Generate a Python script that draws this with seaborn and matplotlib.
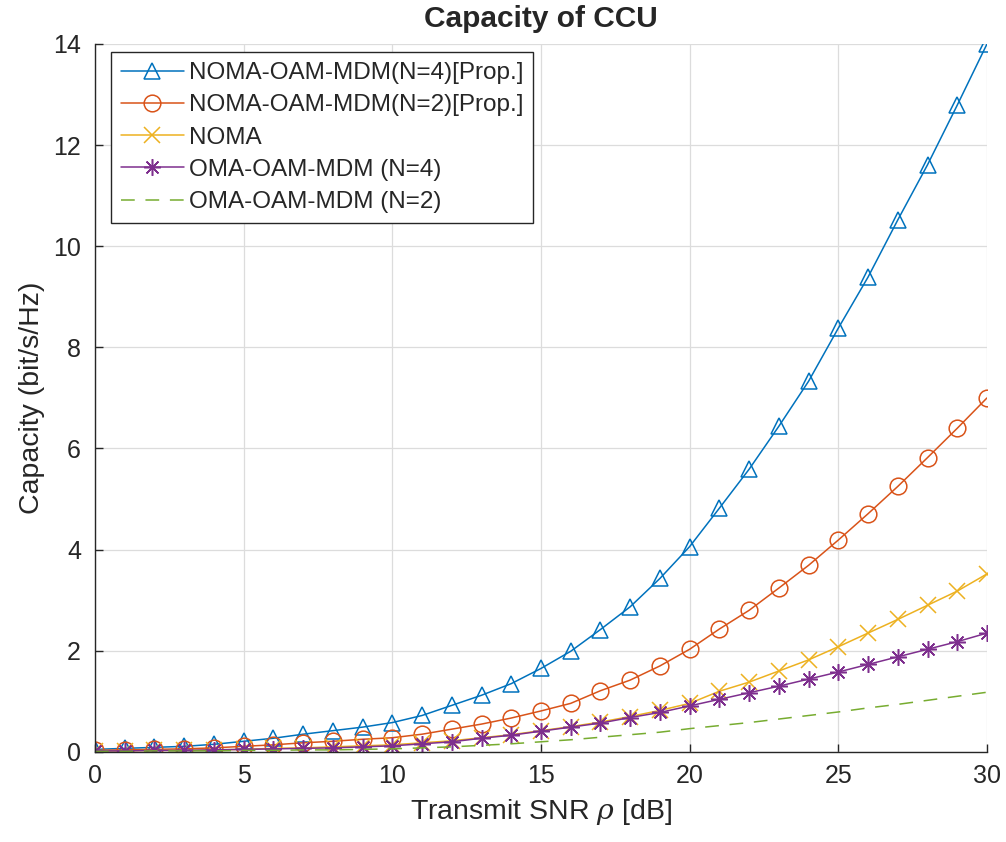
import numpy as np
import pandas as pd
import matplotlib
matplotlib.use("Agg")
import matplotlib.pyplot as plt
import seaborn as sns

snr_db = list(range(0, 31))

cap_noma_oam_n4 = [0.05, 0.07, 0.09, 0.11, 0.15, 0.21, 0.27, 0.35, 0.42, 0.49,
                   0.58, 0.72, 0.92, 1.12, 1.35, 1.65, 1.99, 2.42, 2.87, 3.43,
                   4.06, 4.82, 5.59, 6.44, 7.33, 8.38, 9.39, 10.52, 11.61, 12.79, 14.0]
cap_noma_oam_n2 = [0.03, 0.04, 0.05, 0.06, 0.08, 0.11, 0.14, 0.18, 0.21, 0.25,
                   0.28, 0.35, 0.45, 0.55, 0.67, 0.81, 0.96, 1.21, 1.42, 1.70,
                   2.03, 2.43, 2.80, 3.24, 3.69, 4.19, 4.71, 5.25, 5.82, 6.40, 7.00]
cap_noma = [0.02, 0.02, 0.03, 0.03, 0.04, 0.05, 0.07, 0.08, 0.10, 0.12,
            0.14, 0.18, 0.22, 0.28, 0.34, 0.42, 0.50, 0.59, 0.70, 0.82,
            0.96, 1.20, 1.38, 1.60, 1.82, 2.08, 2.35, 2.62, 2.90, 3.18, 3.52]
cap_oma_n4 = [0.02, 0.02, 0.03, 0.03, 0.04, 0.05, 0.06, 0.07, 0.08, 0.10,
              0.12, 0.16, 0.20, 0.27, 0.33, 0.41, 0.49, 0.57, 0.68, 0.78,
              0.91, 1.04, 1.17, 1.30, 1.44, 1.58, 1.73, 1.88, 2.03, 2.18, 2.35]
cap_oma_n2 = [0.01, 0.01, 0.02, 0.02, 0.02, 0.03, 0.03, 0.04, 0.04, 0.05,
              0.06, 0.08, 0.10, 0.13, 0.16, 0.20, 0.24, 0.29, 0.34, 0.39,
              0.46, 0.52, 0.58, 0.65, 0.72, 0.79, 0.87, 0.94, 1.02, 1.10, 1.18]

labels = ["NOMA-OAM-MDM(N=4)[Prop.]", "NOMA-OAM-MDM(N=2)[Prop.]", "NOMA",
          "OMA-OAM-MDM (N=4)", "OMA-OAM-MDM (N=2)"]
series = [cap_noma_oam_n4, cap_noma_oam_n2, cap_noma, cap_oma_n4, cap_oma_n2]
colors = ["#0072BD", "#D95319", "#EDB120", "#7E2F8E", "#77AC30"]
markers = ["^", "o", "x", (8, 2, 0), None]
linestyles = ["-", "-", "-", "-", (0, (9, 7))]
msizes = [12, 12, 11, 12, 0]

sns.set_style("white")
plt.rcParams['font.family'] = ['Liberation Sans', 'DejaVu Sans']
plt.rcParams['mathtext.fontset'] = 'dejavuserif'

fig = plt.figure(figsize=(10.06, 8.42), dpi=100)
ax = fig.add_axes([0.0944, 0.107, 0.8867, 0.8408])

for lab, ys, c, m, ls, ms in zip(labels, series, colors, markers, linestyles, msizes):
    df = pd.DataFrame({"snr": snr_db, "cap": ys})
    kw = dict(color=c, linewidth=1.1, label=lab, linestyle=ls, ax=ax)
    if m is not None:
        kw.update(marker=m, markersize=ms, mfc="none", mec=c, mew=1.1)
    sns.lineplot(data=df, x="snr", y="cap", **kw)

ax.set_xlim(0, 30)
ax.set_ylim(0, 14)
ax.set_xticks(range(0, 31, 5))
ax.set_yticks(range(0, 15, 2))
ax.grid(True, color="#dcdcdc", linewidth=0.9)
ax.set_axisbelow(True)
for s in ["top", "right"]:
    ax.spines[s].set_visible(False)
for s in ["left", "bottom"]:
    ax.spines[s].set_color("#262626")
    ax.spines[s].set_linewidth(1.0)
ax.tick_params(axis="both", direction="in", length=6, width=1.0,
               colors="#262626", labelsize=18, left=True, bottom=True)
ax.tick_params(axis="x", pad=9)
ax.tick_params(axis="y", pad=10)
ax.set_xlabel(r"Transmit SNR $\rho$ [dB]", fontsize=20.5, color="#262626", labelpad=6)
ax.set_ylabel("Capacity (bit/s/Hz)", fontsize=20.5, color="#262626", labelpad=6)
ax.set_title("Capacity of CCU", fontsize=21.5, fontweight="bold", pad=12)

leg = ax.legend(loc="upper left", bbox_to_anchor=(0.018, 0.988), fontsize=17.5,
                frameon=True, fancybox=False, edgecolor="#262626",
                handlelength=2.6, handletextpad=0.2, borderpad=0.4,
                labelspacing=0.42, borderaxespad=0.0, framealpha=1)
leg.get_frame().set_linewidth(1.0)

fig.savefig("out.png", dpi=100)
